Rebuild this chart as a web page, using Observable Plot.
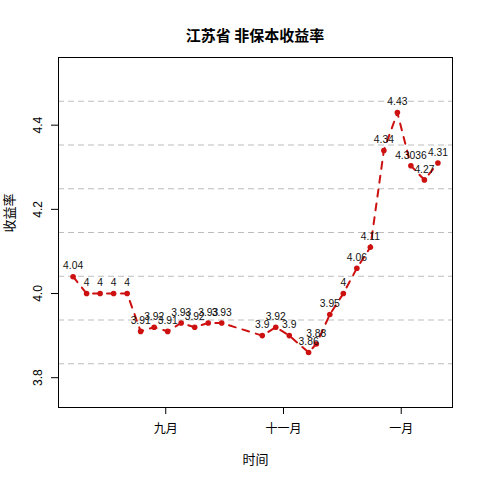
<!DOCTYPE html>
<html>
<head>
<meta charset="utf-8">
<script src="https://cdn.jsdelivr.net/npm/d3@7"></script>
<script src="https://cdn.jsdelivr.net/npm/@observablehq/plot@0.6"></script>
<style>
  body { margin: 0; background: #fff; }
  #title { width: 450px; padding-left: 30px; height: 20px; padding-top: 24px; line-height: 16px; text-align: center;
    font: bold 15px "Noto Sans CJK SC", sans-serif; color: #000; }
</style>
</head>
<body>
<div id="title">江苏省 非保本收益率</div>
<div id="chart"></div>
<script>
const dates = ["2013-07-15","2013-07-22","2013-07-29","2013-08-05","2013-08-12","2013-08-19","2013-08-26",
  "2013-09-02","2013-09-09","2013-09-16","2013-09-23","2013-09-30","2013-10-21","2013-10-28","2013-11-04",
  "2013-11-14","2013-11-18","2013-11-25","2013-12-02","2013-12-09","2013-12-16","2013-12-23","2013-12-30",
  "2014-01-06","2014-01-13","2014-01-20"];
const values = [4.04, 4, 4, 4, 4, 3.91, 3.92, 3.91, 3.93, 3.92, 3.93, 3.93, 3.9, 3.92, 3.9,
  3.86, 3.88, 3.95, 4, 4.06, 4.11, 4.34, 4.43, 4.3036, 4.27, 4.31];
const xTickDates = ["2013-09-01", "2013-11-01", "2014-01-01"];
const xTickLabels = ["九月", "十一月", "一月"];
const yTicks = [3.8, 4.0, 4.2, 4.4];
const yLimits = [3.76, 4.53];
const xTitle = "时间";
const yTitle = "收益率";

const data = dates.map((d, i) => ({date: new Date(d), value: values[i]}));
const tDates = xTickDates.map(d => new Date(d));
const tLabelMap = new Map(tDates.map((d, i) => [+d, xTickLabels[i]]));

// R-style 4% axis extension
const [x0, x1] = d3.extent(data, d => +d.date);
const xr = x1 - x0;
const xDomain = [new Date(x0 - 0.04 * xr), new Date(x1 + 0.04 * xr)];
const yr = yLimits[1] - yLimits[0];
const yDomain = [yLimits[0] - 0.04 * yr, yLimits[1] + 0.04 * yr];
const gridVals = d3.range(1, 8).map(k => yDomain[0] + k * (yDomain[1] - yDomain[0]) / 8);

const font = '"Liberation Sans", "Noto Sans CJK SC", sans-serif';
const red = "#CD1010";

const chart = Plot.plot({
  width: 480,
  height: 436,
  marginTop: 13,
  marginBottom: 73,
  marginLeft: 58,
  marginRight: 28,
  style: {fontFamily: font, fontSize: "12px", color: "#000", background: "#fff"},
  x: {type: "utc", domain: xDomain},
  y: {domain: yDomain},
  marks: [
    Plot.ruleY(gridVals, {stroke: "#bdbdbd", strokeWidth: 1, strokeDasharray: "6,4"}),
    Plot.frame({stroke: "#000", strokeWidth: 1}),
    Plot.axisX({ticks: tDates, tickFormat: d => tLabelMap.get(+d), tickSize: 7, tickPadding: 10, label: null, fontSize: 12}),
    Plot.axisY({ticks: yTicks, tickSize: 7, tickFormat: () => "", label: null}),
    Plot.text(yTicks, {y: d => d, text: d => d3.format(".1f")(d), frameAnchor: "left", dx: -20, rotate: -90,
      textAnchor: "middle", lineAnchor: "middle", fontSize: 12, fill: "#000"}),
    Plot.text([xTitle], {frameAnchor: "bottom", dy: 52, lineAnchor: "middle", fontSize: 13, fill: "#000"}),
    Plot.text([yTitle], {frameAnchor: "left", dx: -49, rotate: -90, lineAnchor: "middle", fontSize: 13, fill: "#000"}),
    Plot.line(data, {x: "date", y: "value", stroke: red, strokeWidth: 2, strokeDasharray: "7,7"}),
    Plot.dot(data, {x: "date", y: "value", r: 2.8, fill: red, stroke: "none"}),
    Plot.text(data, {x: "date", y: "value", text: d => String(d.value), dy: -10.5, lineAnchor: "middle",
      fontSize: 10.3, fill: "#111"})
  ]
});
document.getElementById("chart").appendChild(chart);
</script>
</body>
</html>
